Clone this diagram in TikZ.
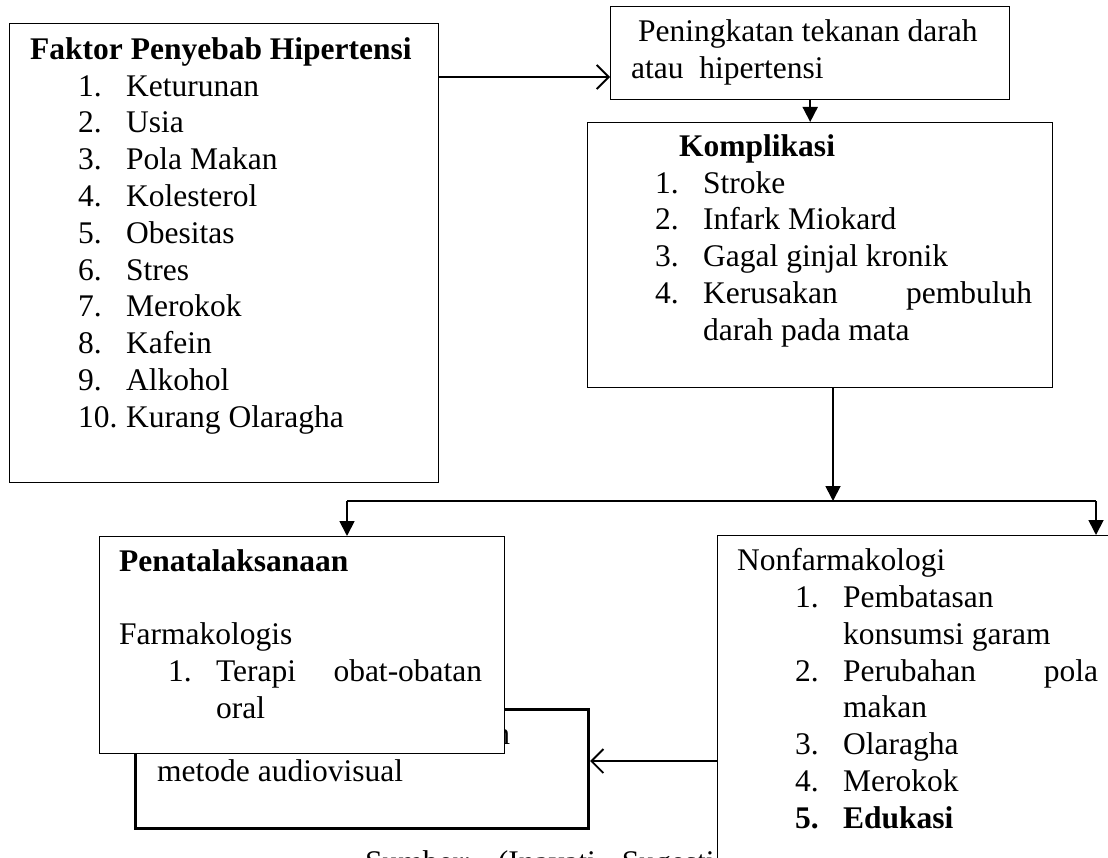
\documentclass[tikz,border=0pt]{standalone}
\usepackage{fontspec}
\setmainfont{Liberation Serif}
\usetikzlibrary{arrows.meta}
\newcommand{\bigfont}{\fontsize{31.5pt}{36.8pt}\selectfont}
\newcommand{\itm}[2]{\makebox[48pt][l]{#1}#2}
\tikzset{
  box/.style={draw, line width=1.4pt, fill=white, inner sep=0pt, anchor=north west},
  thickbox/.style={box, line width=3.2pt},
  txt/.style={inner sep=0pt, anchor=north west, yshift=25.76pt, align=left, font=\bigfont, execute at begin node=\strut},
  arrow/.style={-{Triangle[length=15pt, width=15pt]}, line width=1.8pt},
  openarrow/.style={-{Straight Barb[length=12pt, width=24pt, line width=1.8pt]}, line width=1.8pt},
}
\begin{document}
\begin{tikzpicture}[x=1pt, y=-1pt]
  \useasboundingbox (0,0) rectangle (1108,858);

  % Nodes
  \node[box, minimum width=429pt, minimum height=459pt] (faktor) at (9,23) {};
  \node[txt] (faktortxt) at (30,63) {\textbf{Faktor Penyebab Hipertensi}\\
    \hspace*{48pt}\itm{1.}{Keturunan}\\
    \hspace*{48pt}\itm{2.}{Usia}\\
    \hspace*{48pt}\itm{3.}{Pola Makan}\\
    \hspace*{48pt}\itm{4.}{Kolesterol}\\
    \hspace*{48pt}\itm{5.}{Obesitas}\\
    \hspace*{48pt}\itm{6.}{Stres}\\
    \hspace*{48pt}\itm{7.}{Merokok}\\
    \hspace*{48pt}\itm{8.}{Kafein}\\
    \hspace*{48pt}\itm{9.}{Alkohol}\\
    \hspace*{48pt}\itm{10.}{Kurang Olaragha}};

  \node[box, minimum width=399pt, minimum height=93pt] (naik) at (610,6) {};
  \node[txt] (naiktxt) at (631,45) {\hspace*{7pt}Peningkatan tekanan darah\\
    atau~~hipertensi};

  \node[box, minimum width=465pt, minimum height=265pt] (kompl) at (587,122) {};
  \node[txt] (kompltxt) at (655,160) {\hspace*{24pt}\textbf{Komplikasi}\\
    \itm{1.}{Stroke}\\
    \itm{2.}{Infark Miokard}\\
    \itm{3.}{Gagal ginjal kronik}\\
    \itm{4.}{\makebox[329pt][s]{Kerusakan pembuluh}}\\
    \hspace*{48pt}darah pada mata};

  \node[thickbox, minimum width=453pt, minimum height=119pt] (edu) at (134,708) {};
  \node[txt] (edutxt) at (157,748) {\makebox[353pt][s]{Edukasi kesehatan dengan}\\
    metode audiovisual};

  \node[box, minimum width=405pt, minimum height=217pt] (tata) at (99,536) {};
  \node[txt] (tatatxt) at (119,575) {\textbf{Penatalaksanaan}\\[36.8pt]
    Farmakologis\\
    \hspace*{49pt}\itm{1.}{\makebox[266pt][s]{Terapi obat-obatan}}\\
    \hspace*{97pt}oral};

  \node[txt] (sumber) at (365,872) {Sumber:\hspace{26pt}(Inayati\hspace{26pt}Sugesti};

  \node[box, minimum width=420pt, minimum height=340pt] (nonfarm) at (717,535) {};
  \node[txt] (nonfarmtxt) at (737,574) {Nonfarmakologi\\
    \hspace*{58pt}\itm{1.}{Pembatasan}\\
    \hspace*{106pt}konsumsi garam\\
    \hspace*{58pt}\itm{2.}{\makebox[255pt][s]{Perubahan pola}}\\
    \hspace*{106pt}makan\\
    \hspace*{58pt}\itm{3.}{Olaragha}\\
    \hspace*{58pt}\itm{4.}{Merokok}\\
    \hspace*{58pt}\textbf{\itm{5.}{Edukasi}}};

  % Branch points
  \coordinate (a1) at ([yshift=-54pt]faktor.north east);
  \coordinate (br) at (833,501);
  \coordinate (brL) at (347,501);
  \coordinate (brR) at (1096,501);
  \coordinate (a2) at ([yshift=-53pt]edu.north east);

  % Arrows
  \draw[openarrow] (a1) -- (a1 -| naik.west);
  \draw[arrow] (naik.south) -- (naik.south |- kompl.north);
  \draw[arrow] (br |- kompl.south) -- (br);
  \draw[line width=1.8pt] (brL) -- (brR);
  \draw[arrow] (brL) -- (brL |- tata.north);
  \draw[arrow] (brR) -- (brR |- nonfarm.north);
  \draw[openarrow] (a2 -| nonfarm.west) -- (a2);

\end{tikzpicture}
\end{document}
